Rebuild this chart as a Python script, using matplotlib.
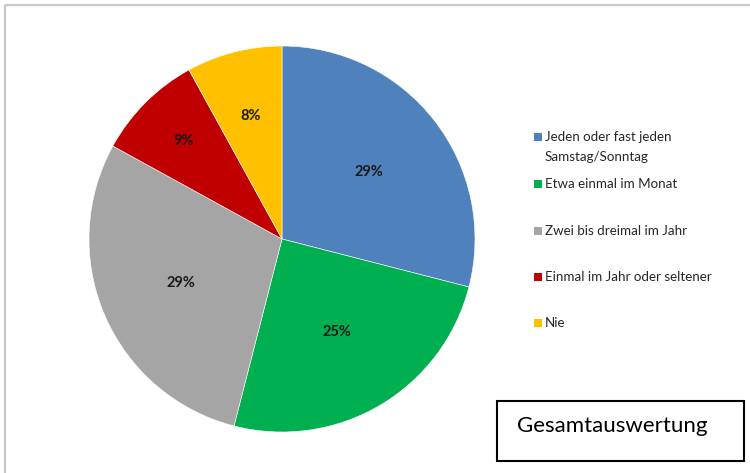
import numpy as np
import matplotlib
matplotlib.use('Agg')
import matplotlib.pyplot as plt
from matplotlib.patches import Rectangle

plt.rcParams['font.family'] = ['Lato', 'DejaVu Sans']

# Anteile in Prozent, im Uhrzeigersinn ab 12 Uhr
categories = ['Jeden oder fast jeden\nSamstag/Sonntag',
              'Etwa einmal im Monat',
              'Zwei bis dreimal im Jahr',
              'Einmal im Jahr oder seltener',
              'Nie']
shares = [29, 25, 29, 9, 8]
colors = ['#4F81BD', '#00B050', '#A5A5A5', '#C00000', '#FFC000']
label_dist = [0.57, 0.56, 0.57, 0.72, 0.66]  # Abstand der Prozentwerte vom Mittelpunkt
title = 'Gesamtauswertung'

W, H = 750, 473
fig = plt.figure(figsize=(W / 100, H / 100), dpi=100)

# Overlay in Pixelkoordinaten
bg = fig.add_axes([0, 0, 1, 1])
bg.set_xlim(0, W)
bg.set_ylim(H, 0)
bg.axis('off')

# grauer Rahmen
bg.add_patch(Rectangle((5, 5), W + 20, H + 20, fill=False, edgecolor='#C8C8C8', linewidth=1.6))

# Kreisdiagramm
cx, cy, r = 282, 239, 193
ax = fig.add_axes([(cx - r) / W, (H - cy - r) / H, 2 * r / W, 2 * r / H])
wedges, _ = ax.pie(shares, colors=colors, startangle=90, counterclock=False,
                   wedgeprops=dict(edgecolor='white', linewidth=0.4))
ax.set_xlim(-1, 1)
ax.set_ylim(-1, 1)
ax.set_aspect('equal')
ax.axis('off')

# Prozentwerte in den Segmenten
total = float(sum(shares))
start = 90.0
for val, d in zip(shares, label_dist):
    span = val / total * 360
    mid = np.deg2rad(start - span / 2)
    ax.text(d * np.cos(mid), d * np.sin(mid), '%d%%' % val, ha='center', va='center',
            fontsize=10.5, fontweight='bold', color='#1A1A1A')
    start -= span

# Legende
leg_y = [137, 184, 231, 277, 323]
for lab, col, y in zip(categories, colors, leg_y):
    bg.add_patch(Rectangle((534, y - 4), 8, 8, facecolor=col, edgecolor='none'))
    bg.text(545, y - 6, lab, ha='left', va='top', fontsize=9.6, color='#262626',
            linespacing=1.75)

# Titelkasten
bg.add_patch(Rectangle((497, 401), 247, 60, fill=False, edgecolor='black', linewidth=1.5))
bg.text(517, 426, title, ha='left', va='center', fontsize=16, color='black')

fig.savefig('out.png', dpi=100)
